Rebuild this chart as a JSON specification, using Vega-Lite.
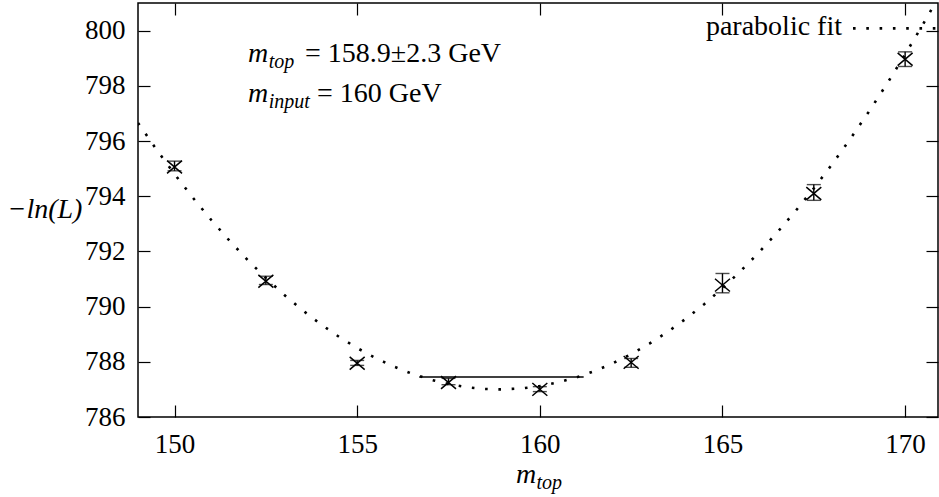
{
  "$schema": "https://vega.github.io/schema/vega-lite/v6.json",
  "width": 800,
  "height": 414,
  "autosize": "none",
  "padding": {"left": 138, "top": 3, "right": 1, "bottom": 80},
  "background": "white",
  "config": {
    "font": "Times New Roman",
    "view": {"stroke": "black", "strokeWidth": 1.5},
    "axis": {
      "grid": false,
      "domain": false,
      "labelFont": "Times New Roman",
      "labelFontSize": 27,
      "labelColor": "black",
      "tickColor": "black",
      "tickWidth": 1.2,
      "tickSize": -12,
      "titleFont": "Times New Roman"
    },
    "axisLeft": {"labelFont": "Times New Roman", "labelFontSize": 27},
    "axisBottom": {"labelFont": "Times New Roman", "labelFontSize": 27},
    "text": {"font": "Times New Roman"}
  },
  "datasets": {
    "fit": [
      {"x": 149.0, "y": 796.654}, {"x": 149.5, "y": 795.703}, {"x": 150.0, "y": 794.802},
      {"x": 150.5, "y": 793.95}, {"x": 151.0, "y": 793.147}, {"x": 151.5, "y": 792.394},
      {"x": 152.0, "y": 791.69}, {"x": 152.5, "y": 791.035}, {"x": 153.0, "y": 790.429},
      {"x": 153.5, "y": 789.872}, {"x": 154.0, "y": 789.365}, {"x": 154.5, "y": 788.907},
      {"x": 155.0, "y": 788.498}, {"x": 155.5, "y": 788.139}, {"x": 156.0, "y": 787.828},
      {"x": 156.5, "y": 787.567}, {"x": 157.0, "y": 787.356}, {"x": 157.5, "y": 787.193},
      {"x": 158.0, "y": 787.08}, {"x": 158.5, "y": 787.016}, {"x": 158.9, "y": 787.0},
      {"x": 159.5, "y": 787.035}, {"x": 160.0, "y": 787.119}, {"x": 160.5, "y": 787.252},
      {"x": 161.0, "y": 787.434}, {"x": 161.5, "y": 787.666}, {"x": 162.0, "y": 787.947},
      {"x": 162.5, "y": 788.277}, {"x": 163.0, "y": 788.656}, {"x": 163.5, "y": 789.084},
      {"x": 164.0, "y": 789.562}, {"x": 164.5, "y": 790.089}, {"x": 165.0, "y": 790.665},
      {"x": 165.5, "y": 791.291}, {"x": 166.0, "y": 791.965}, {"x": 166.5, "y": 792.689},
      {"x": 167.0, "y": 793.463}, {"x": 167.5, "y": 794.285}, {"x": 168.0, "y": 795.157},
      {"x": 168.5, "y": 796.078}, {"x": 169.0, "y": 797.048}, {"x": 169.5, "y": 798.067},
      {"x": 170.0, "y": 799.136}, {"x": 170.5, "y": 800.254}, {"x": 170.8, "y": 800.949}
    ],
    "obs": [
      {"m": 150.0, "nll": 795.06, "lo": 794.92, "hi": 795.27},
      {"m": 152.5, "nll": 790.92, "lo": 790.8, "hi": 791.1},
      {"m": 155.0, "nll": 787.95, "lo": 787.87, "hi": 788.05},
      {"m": 157.5, "nll": 787.25, "lo": 787.17, "hi": 787.4},
      {"m": 160.0, "nll": 787.0, "lo": 786.92, "hi": 787.1},
      {"m": 162.5, "nll": 787.98, "lo": 787.8, "hi": 788.12},
      {"m": 165.0, "nll": 790.78, "lo": 790.5, "hi": 791.2},
      {"m": 167.5, "nll": 794.1, "lo": 793.85, "hi": 794.42},
      {"m": 170.0, "nll": 798.96, "lo": 798.7, "hi": 799.23}
    ],
    "sigma": [{"x": 156.7, "x2": 161.2, "y": 787.45}],
    "italicBig": [
      {"x": 152.011, "y": 798.871, "t": "m"},
      {"x": 152.011, "y": 797.42, "t": "m"},
      {"x": 159.348, "y": 783.626, "t": "m"}
    ],
    "italicSmall": [
      {"x": 152.58, "y": 798.64, "t": "top"},
      {"x": 152.58, "y": 797.19, "t": "input"},
      {"x": 159.91, "y": 783.39, "t": "top"}
    ],
    "plain": [
      {"x": 153.572, "y": 798.871, "t": "= 158.9±2.3 GeV"},
      {"x": 153.9, "y": 797.42, "t": "= 160 GeV"}
    ],
    "legendText": [{"x": 168.272, "y": 799.839, "t": "parabolic fit"}],
    "legendLine": [{"x": 168.573, "y": 800.082}, {"x": 170.85, "y": 800.082}]
  },
  "resolve": {"axis": {"x": "independent", "y": "independent"}},
  "layer": [
    {
      "data": {"name": "fit"},
      "mark": {"type": "line", "color": "black", "strokeWidth": 2.6, "strokeDash": [2.6, 10.7], "strokeCap": "butt", "clip": true},
      "encoding": {
        "x": {"field": "x", "type": "quantitative", "scale": {"domain": [149, 170.9], "nice": false, "zero": false},
          "axis": {"orient": "bottom", "values": [150, 155, 160, 165, 170], "title": null, "labelPadding": 26,
            "labelFont": "Times New Roman", "labelFontSize": 27}},
        "y": {"field": "y", "type": "quantitative", "scale": {"domain": [786, 801], "nice": false, "zero": false},
          "axis": {"orient": "left", "values": [786, 788, 790, 792, 794, 796, 798, 800], "labelPadding": 25,
            "labelFont": "Times New Roman", "labelFontSize": 27,
            "title": "−ln(L)", "titleFont": "Times New Roman", "titleAngle": 0, "titleFontStyle": "italic", "titleFontWeight": "normal",
            "titleFontSize": 28, "titleAlign": "left", "titleBaseline": "alphabetic", "titleX": -131, "titleY": 214, "titleColor": "black"}}
      }
    },
    {
      "data": {"name": "obs"},
      "mark": {"type": "point", "opacity": 0},
      "encoding": {
        "x": {"field": "m", "type": "quantitative", "scale": {"domain": [149, 170.9], "nice": false, "zero": false},
          "axis": {"orient": "top", "values": [150, 155, 160, 165, 170], "labels": false, "title": null}},
        "y": {"field": "nll", "type": "quantitative", "scale": {"domain": [786, 801], "nice": false, "zero": false},
          "axis": {"orient": "right", "values": [786, 788, 790, 792, 794, 796, 798, 800], "labels": false, "title": null}}
      }
    },
    {
      "data": {"name": "sigma"},
      "mark": {"type": "rule", "color": "black", "strokeWidth": 1.4},
      "encoding": {
        "x": {"field": "x", "type": "quantitative", "axis": null},
        "x2": {"field": "x2"},
        "y": {"field": "y", "type": "quantitative", "axis": null}
      }
    },
    {
      "data": {"name": "obs"},
      "mark": {"type": "rule", "color": "black", "strokeWidth": 1.4},
      "encoding": {
        "x": {"field": "m", "type": "quantitative", "axis": null},
        "y": {"field": "lo", "type": "quantitative", "axis": null},
        "y2": {"field": "hi"}
      }
    },
    {
      "data": {"name": "obs"},
      "mark": {"type": "tick", "orient": "horizontal", "color": "black", "size": 14, "thickness": 1.4},
      "encoding": {
        "x": {"field": "m", "type": "quantitative", "axis": null},
        "y": {"field": "lo", "type": "quantitative", "axis": null}
      }
    },
    {
      "data": {"name": "obs"},
      "mark": {"type": "tick", "orient": "horizontal", "color": "black", "size": 14, "thickness": 1.4},
      "encoding": {
        "x": {"field": "m", "type": "quantitative", "axis": null},
        "y": {"field": "hi", "type": "quantitative", "axis": null}
      }
    },
    {
      "data": {"name": "obs"},
      "mark": {"type": "point", "shape": "M-1,-0.85L1,0.85M-1,0.85L1,-0.85", "size": 225, "filled": false, "color": "black", "strokeWidth": 1.5, "opacity": 1},
      "encoding": {
        "x": {"field": "m", "type": "quantitative", "axis": null},
        "y": {"field": "nll", "type": "quantitative", "axis": null}
      }
    },
    {
      "data": {"name": "legendLine"},
      "mark": {"type": "line", "color": "black", "strokeWidth": 2.6, "strokeDash": [2.6, 10.7], "strokeCap": "butt"},
      "encoding": {
        "x": {"field": "x", "type": "quantitative", "axis": null},
        "y": {"field": "y", "type": "quantitative", "axis": null}
      }
    },
    {
      "data": {"name": "legendText"},
      "mark": {"type": "text", "align": "right", "baseline": "alphabetic", "fontSize": 28, "color": "black"},
      "encoding": {
        "x": {"field": "x", "type": "quantitative", "axis": null},
        "y": {"field": "y", "type": "quantitative", "axis": null},
        "text": {"field": "t"}
      }
    },
    {
      "data": {"name": "italicBig"},
      "mark": {"type": "text", "align": "left", "baseline": "alphabetic", "fontSize": 28, "fontStyle": "italic", "color": "black"},
      "encoding": {
        "x": {"field": "x", "type": "quantitative", "axis": null},
        "y": {"field": "y", "type": "quantitative", "axis": null},
        "text": {"field": "t"}
      }
    },
    {
      "data": {"name": "italicSmall"},
      "mark": {"type": "text", "align": "left", "baseline": "alphabetic", "fontSize": 20, "fontStyle": "italic", "color": "black"},
      "encoding": {
        "x": {"field": "x", "type": "quantitative", "axis": null},
        "y": {"field": "y", "type": "quantitative", "axis": null},
        "text": {"field": "t"}
      }
    },
    {
      "data": {"name": "plain"},
      "mark": {"type": "text", "align": "left", "baseline": "alphabetic", "fontSize": 28, "color": "black"},
      "encoding": {
        "x": {"field": "x", "type": "quantitative", "axis": null},
        "y": {"field": "y", "type": "quantitative", "axis": null},
        "text": {"field": "t"}
      }
    }
  ]
}
